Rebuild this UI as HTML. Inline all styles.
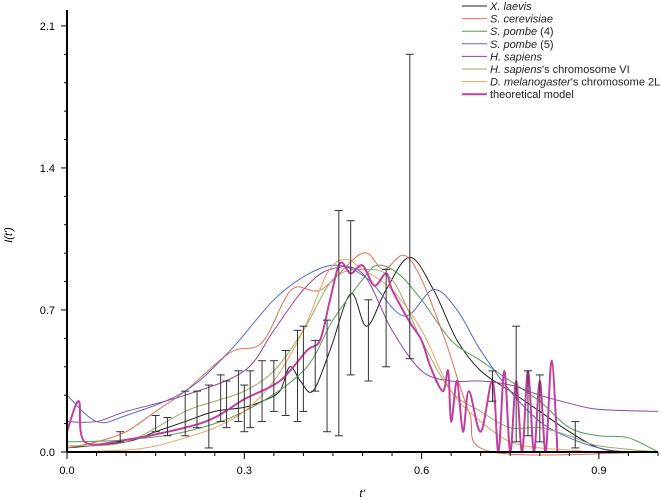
<!DOCTYPE html>
<html><head><meta charset="utf-8"><style>
body{margin:0;background:#fff;}
svg{display:block;font-family:"Liberation Sans",sans-serif;}
</style></head><body>
<svg id="c" width="661" height="500"></svg>
<script>
const xTicks=[0,0.3,0.6,0.9];
const xTickLabels=["0.0","0.3","0.6","0.9"];
const yTicks=[0,0.7,1.4,2.1];
const yTickLabels=["0.0","0.7","1.4","2.1"];
const seriesNames=["X. laevis","S. cerevisiae","S. pombe (4)","S. pombe (5)","H. sapiens","H. sapiens's chromosome VI","D. melanogaster's chromosome 2L","theoretical model"];
const xlaevis=[[0,0.02],[0.1,0.05],[0.15,0.1],[0.2,0.15],[0.25,0.2],[0.3,0.22],[0.33,0.25],[0.36,0.3],[0.377,0.42],[0.395,0.35],[0.416,0.3],[0.445,0.5],[0.48,0.78],[0.507,0.62],[0.54,0.8],[0.58,0.96],[0.62,0.8],[0.66,0.55],[0.7,0.4],[0.75,0.3],[0.8,0.2],[0.85,0.1],[0.9,0.02],[0.95,0],[1,0]];
const scerevisiae=[[0,0.02],[0.05,0.05],[0.1,0.1],[0.15,0.2],[0.2,0.3],[0.276,0.49],[0.33,0.54],[0.38,0.8],[0.43,0.8],[0.5,0.98],[0.535,0.9],[0.57,0.97],[0.6,0.85],[0.64,0.55],[0.68,0.2],[0.72,0],[1,0]];
const spombe4=[[0,0.05],[0.1,0.06],[0.2,0.1],[0.3,0.2],[0.4,0.4],[0.45,0.65],[0.5,0.85],[0.525,0.92],[0.56,0.88],[0.6,0.75],[0.65,0.55],[0.7,0.45],[0.75,0.35],[0.8,0.25],[0.85,0.12],[0.9,0.08],[0.95,0.07],[1,0]];
const spombe5=[[0,0.28],[0.05,0.15],[0.1,0.18],[0.2,0.3],[0.276,0.5],[0.35,0.75],[0.41,0.88],[0.46,0.92],[0.51,0.85],[0.57,0.67],[0.62,0.8],[0.66,0.7],[0.7,0.5],[0.75,0.3],[0.8,0.15],[0.85,0.07],[0.9,0.02],[0.95,0],[1,0]];
const hsapiens=[[0,0.15],[0.05,0.15],[0.1,0.2],[0.2,0.28],[0.3,0.4],[0.35,0.6],[0.4,0.8],[0.445,0.9],[0.5,0.88],[0.55,0.6],[0.6,0.4],[0.65,0.35],[0.7,0.35],[0.75,0.33],[0.8,0.28],[0.85,0.24],[0.9,0.21],[1,0.2]];
const hsapiens6=[[0,0.03],[0.1,0.05],[0.2,0.2],[0.25,0.25],[0.3,0.3],[0.35,0.4],[0.4,0.6],[0.45,0.85],[0.5,0.9],[0.55,0.85],[0.6,0.55],[0.65,0.3],[0.7,0.2],[0.75,0.12],[0.8,0.12],[0.85,0.08],[0.9,0.03],[1,0]];
const dmelano=[[0,0],[0.1,0.01],[0.15,0.03],[0.2,0.07],[0.25,0.12],[0.3,0.2],[0.35,0.35],[0.4,0.6],[0.44,0.88],[0.47,0.95],[0.5,0.9],[0.55,0.8],[0.6,0.6],[0.65,0.3],[0.7,0.15],[0.75,0.05],[0.8,0.02],[0.85,0.01],[0.9,0],[1,0]];
const theory=[[0,0.1],[0.02,0.25],[0.03,0.05],[0.1,0.06],[0.2,0.12],[0.25,0.17],[0.3,0.26],[0.36,0.35],[0.406,0.5],[0.428,0.55],[0.445,0.75],[0.462,0.93],[0.48,0.88],[0.5,0.92],[0.52,0.82],[0.54,0.88],[0.55,0.8],[0.58,0.64],[0.6,0.55],[0.615,0.42],[0.636,0.3],[0.645,0.4],[0.65,0.15],[0.66,0.35],[0.67,0.1],[0.68,0.3],[0.7,0.1],[0.72,0.35],[0.73,0],[0.74,0.4],[0.75,0],[0.76,0.35],[0.77,0],[0.78,0.4],[0.79,0],[0.8,0.35],[0.81,0],[0.82,0.45],[0.83,0]];
const errT=[0.09,0.15,0.17,0.2,0.22,0.24,0.26,0.27,0.29,0.3,0.31,0.33,0.35,0.37,0.39,0.4,0.42,0.44,0.46,0.48,0.51,0.54,0.58,0.72,0.76,0.78,0.8,0.86];
const errLow=[0.05,0.1,0.08,0.08,0.12,0.02,0.15,0.12,0.15,0.1,0.12,0.15,0.2,0.18,0.15,0.2,0.3,0.1,0.08,0.38,0.35,0.42,0.46,0.25,0.05,0.08,0.05,0.02];
const errHigh=[0.1,0.18,0.17,0.3,0.3,0.33,0.38,0.35,0.4,0.33,0.4,0.45,0.45,0.5,0.6,0.62,0.55,0.65,1.19,1.14,0.75,0.9,1.96,0.4,0.62,0.4,0.38,0.15];

const colors=["#222","#e0705a","#5a9a5a","#5a6ac8","#8a4a9a","#9aaa6a","#f0a060","#c040a0"];
const widths=[1,1,1,1,1,1,1,2];
const allSeries=[xlaevis,scerevisiae,spombe4,spombe5,hsapiens,hsapiens6,dmelano,theory];
const X0=67,X1=658,Y0=452,YPER=202.9;
const sx=t=>X0+t*591, sy=v=>Y0-v*YPER;
const svg=document.getElementById('c');const NS="http://www.w3.org/2000/svg";
function mk(tag,attrs,parent){const e=document.createElementNS(NS,tag);for(const k in attrs)e.setAttribute(k,attrs[k]);(parent||svg).appendChild(e);return e;}
function path(pts){const p=pts.map(d=>[sx(d[0]),sy(d[1])]);let s="M"+p[0][0]+","+p[0][1];for(let i=0;i<p.length-1;i++){const a=p[i-1]||p[i],b=p[i],c=p[i+1],d=p[i+2]||c;s+=" C"+(b[0]+(c[0]-a[0])/6)+","+(b[1]+(c[1]-a[1])/6)+" "+(c[0]-(d[0]-b[0])/6)+","+(c[1]-(d[1]-b[1])/6)+" "+c[0]+","+c[1];}return s;}
allSeries.forEach((s,i)=>{const e=mk('path',{d:path(s),fill:'none',stroke:colors[i],'stroke-width':widths[i]});

});
errT.forEach((t,i)=>{const g=mk('g',{stroke:'#333','stroke-width':1});


const x=sx(t);mk('line',{x1:x,x2:x,y1:sy(errLow[i]),y2:sy(errHigh[i])},g);
mk('line',{x1:x-4,x2:x+4,y1:sy(errLow[i]),y2:sy(errLow[i])},g);
mk('line',{x1:x-4,x2:x+4,y1:sy(errHigh[i]),y2:sy(errHigh[i])},g);});
const ax=mk('g',{stroke:'#000','stroke-width':2});


mk('line',{x1:X0,x2:X1,y1:Y0,y2:Y0},ax);mk('line',{x1:X0,x2:X0,y1:10,y2:Y0},ax);
for(let k=0;k<=20;k++){const x=sx(k*0.05);mk('line',{x1:x,x2:x,y1:Y0,y2:Y0+(k%6==0?7:4),'stroke-width':1},ax);}
for(let k=0;k<=15;k++){const y=sy(k*0.14);mk('line',{x1:X0,x2:X0-(k%5==0?6:3),y1:y,y2:y,'stroke-width':1},ax);}
xTicks.forEach((t,i)=>{const e=mk('text',{x:sx(t),y:474,'font-size':11,'text-anchor':'middle'});e.textContent=xTickLabels[i];

});
yTicks.forEach((v,i)=>{const e=mk('text',{x:55,y:sy(v)+4,'font-size':11,'text-anchor':'end'});e.textContent=yTickLabels[i];

});
const xt=mk('text',{x:362,y:497,'font-size':11,'text-anchor':'middle','font-style':'italic'});xt.textContent="t'";


const yt=mk('text',{x:12,y:235,'font-size':11,'text-anchor':'middle',transform:'rotate(-90 12 235)','font-style':'italic'});yt.textContent="I(t')";


const lg=mk('g',{});


seriesNames.forEach((n,i)=>{const y=6+i*12.6;
mk('line',{x1:462,x2:487,y1:y,y2:y,stroke:colors[i],'stroke-width':widths[i]},lg);
const t=mk('text',{x:490,y:y+4,'font-size':11,fill:'#222'},lg);


const m=n.match(/^(X\. laevis|S\. cerevisiae|S\. pombe|H\. sapiens|D\. melanogaster)(.*)$/);
if(m){const a=mk('tspan',{'font-style':'italic'},t);a.textContent=m[1];const b=mk('tspan',{},t);b.textContent=m[2];}else t.textContent=n;});
</script>
</body></html>
